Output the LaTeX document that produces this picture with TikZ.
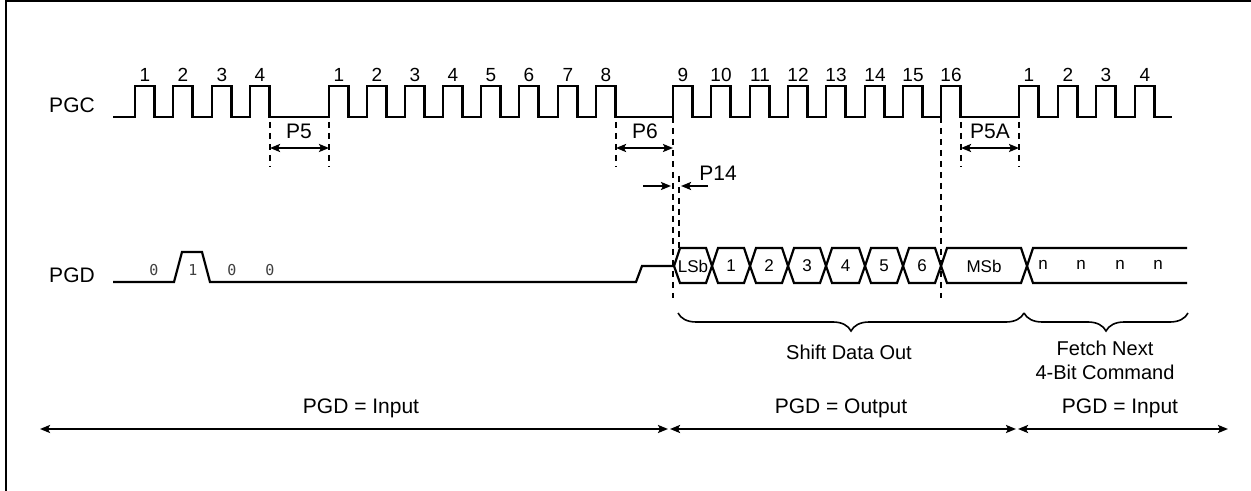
\documentclass[tikz,border=0pt]{standalone}
\usepackage{fontspec}
\setmainfont{Liberation Sans}
\newfontfamily\bitfont{DejaVu Sans Mono}
\usetikzlibrary{
  arrows.meta,
  decorations.pathreplacing,
  positioning,
}

\tikzset{
  wave/.style={line width=1.1pt, line join=miter},
  guide/.style={line width=0.9pt, dash pattern=on 3pt off 2.5pt},
  dimline/.style={line width=1pt, {Stealth[length=5pt,width=4pt,inset=1pt]}-{Stealth[length=5pt,width=4pt,inset=1pt]}},
  oneway/.style={line width=1pt, -{Stealth[length=5pt,width=4pt,inset=1pt]}},
  siglabel/.style={inner sep=0pt, font=\fontsize{10.5}{12}\selectfont},
  numlabel/.style={inner sep=0pt, font=\fontsize{9.5}{11}\selectfont},
  celllabel/.style={inner sep=0pt, font=\fontsize{8.5}{10}\selectfont},
  bitlabel/.style={inner sep=0pt, text=black!75, font=\bitfont\fontsize{7.5}{9}\selectfont},
  modelabel/.style={inner sep=0pt, font=\fontsize{10.5}{12}\selectfont},
  curly/.style={line width=0.8pt, decorate, decoration={brace, mirror, amplitude=9pt}},
}

\begin{document}
\begin{tikzpicture}[x=0.5pt, y=-0.5pt]
\useasboundingbox (0,0) rectangle (1251,491);
\draw[line width=1pt] (6,491) -- (6,1.5) -- (1251,1.5);

\node[siglabel] (pgc) at (72,105) {PGC};
\node[siglabel] (pgd) at (72,275) {PGD};

% clock
\draw[wave] (113,117)
  foreach \x in {135,173,212,250,329,367,405,443,481,519,558,596,673,711,750,788,826,865,903,941,1019,1058,1096,1135}
  { -- (\x,117) -- (\x,86) -- (\x+19.5,86) -- (\x+19.5,117) } -- (1172,117);
\foreach \x [count=\i] in {135,173,212,250}
  \node[numlabel] (ca\i) at (\x+10,75) {\i};
\foreach \x [count=\i] in {329,367,405,443,481,519,558,596}
  \node[numlabel] (cb\i) at (\x+10,75) {\i};
\foreach \x [count=\i from 9] in {673,711,750,788,826,865,903,941}
  \node[numlabel] (cc\i) at (\x+10,75) {\i};
\foreach \x [count=\i] in {1019,1058,1096,1135}
  \node[numlabel] (cd\i) at (\x+10,75) {\i};

% data line
\draw[wave] (113,282) -- (174,282) -- (182,252) -- (202,252) -- (210,282) -- (636,282) -- (642,266) -- (673,266);
\foreach \x/\b [count=\i] in {154/0,193/1,232/0,270/0}
  \node[bitlabel] (bit\i) at (\x,270) {\b};
\foreach \l/\r/\t [count=\i] in {674/712/LSb,712/750/1,750/788/2,788/826/3,826/865/4,865/903/5,903/941/6,941/1027/MSb}
{
  \draw[wave] (\l,266) -- (\l+6,248) -- (\r-6,248) -- (\r,266) -- (\r-6,283) -- (\l+6,283) -- cycle;
  \node[celllabel] (cell\i) at ({(\l+\r)/2},266) {\t};
}
\draw[wave] (1187,248) -- (1033,248) -- (1027,266) -- (1033,283) -- (1187,283);
\foreach \x [count=\i] in {1043,1081,1120,1158}
  \node[celllabel] (nib\i) at (\x,265) {n};

% timing guides
\coordinate (g1t) at (270,122); \coordinate (g1b) at (270,167);
\coordinate (g2t) at (329,122); \coordinate (g2b) at (329,167);
\coordinate (g3t) at (616,122); \coordinate (g3b) at (616,167);
\coordinate (g4t) at (673,117); \coordinate (g4b) at (673,298);
\coordinate (g5t) at (679,176); \coordinate (g5b) at (679,248);
\coordinate (g6t) at (941,117); \coordinate (g6b) at (941,298);
\coordinate (g7t) at (961,122); \coordinate (g7b) at (961,167);
\coordinate (g8t) at (1019,122); \coordinate (g8b) at (1019,167);
\foreach \g in {1,...,8}
  \draw[guide] (g\g t) -- (g\g b);

\draw[dimline] (270,148) -- (329,148);
\node[numlabel, font=\fontsize{10.5}{12}\selectfont] (p5) at (299,131) {P5};
\draw[dimline] (616,148) -- (673,148);
\node[numlabel, font=\fontsize{10.5}{12}\selectfont] (p6) at (645,131) {P6};
\draw[dimline] (961,148) -- (1019,148);
\node[numlabel, font=\fontsize{10.5}{12}\selectfont] (p5a) at (990,131) {P5A};

\coordinate (p14l) at (643,186);
\coordinate (p14r) at (708,186);
\draw[oneway] (p14l) -- (671,186);
\draw[oneway] (p14r) -- (681,186);
\node[numlabel, font=\fontsize{10.5}{12}\selectfont] (p14) at (718,173) {P14};

% phases
\draw[curly] (678,313) -- (1024,313);
\draw[curly] (1024,313) -- (1188,313);
\node[numlabel, font=\fontsize{10}{12}\selectfont] (shift) at (849,352) {Shift Data Out};
\node[numlabel, font=\fontsize{10}{12}\selectfont, align=center] (fetch) at (1105,360) {Fetch Next\\4-Bit Command};

\draw[dimline] (40,429) -- (668,429);
\draw[dimline] (670,429) -- (1016,429);
\draw[dimline] (1018,429) -- (1228,429);
\node[modelabel] (mode1) at (361,408) {PGD = Input};
\node[modelabel] (mode2) at (841,408) {PGD = Output};
\node[modelabel] (mode3) at (1120,408) {PGD = Input};
\end{tikzpicture}
\end{document}
